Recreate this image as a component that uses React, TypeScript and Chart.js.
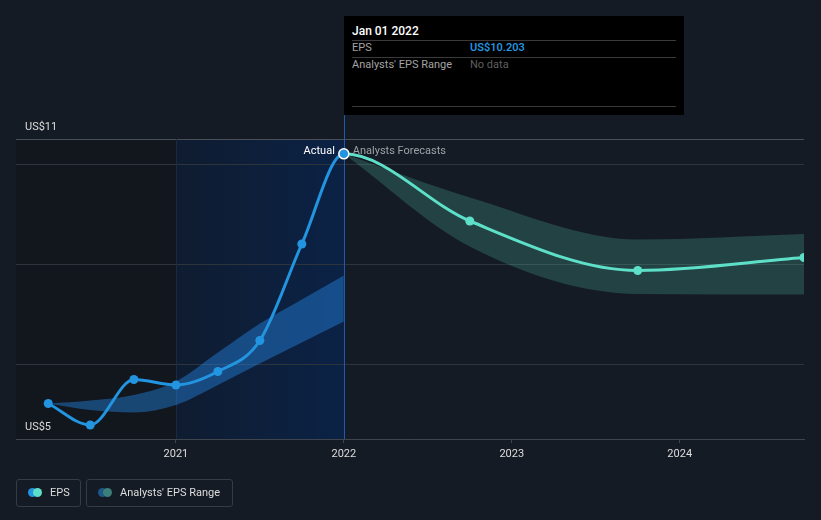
import React, { useEffect, useRef } from "react";
import { Chart, registerables } from "chart.js";

Chart.register(...registerables);

// ---- data ----
const actualDates = [2020.24, 2020.49, 2020.75, 2021.0, 2021.25, 2021.5, 2021.75, 2022.0];
const actualEps = [5.21, 4.78, 5.69, 5.58, 5.85, 6.47, 8.4, 10.203];
const pastRangeHigh = [5.21, 5.27, 5.38, 5.65, 6.23, 6.81, 7.29, 7.77];
const pastRangeLow = [5.21, 5.08, 5.03, 5.18, 5.58, 6.01, 6.43, 6.85];
const forecastDates = [2022.0, 2022.75, 2023.75, 2024.74];
const forecastEps = [10.203, 8.86, 7.87, 8.13];
const forecastHigh = [10.203, 9.33, 8.49, 8.6];
const forecastLow = [10.203, 8.35, 7.4, 7.39];
const xTicks = [2021, 2022, 2023, 2024];
const yTicks = [4.5, 6, 8, 10, 10.5];
const yTickLabels = ["US$5", "", "", "", "US$11"];
const xMin = 2020.048;
const xMax = 2024.74;
const pastStart = 2021;
const nowDate = 2022;

const BLUE = "#2394df";
const TEAL = "#5ee0c8";
const CLEAR = "rgba(0,0,0,0)";
const FONT = "Roboto, 'Noto Sans', sans-serif";
const FS = 11;

const pts = (xs: number[], ys: number[]) => xs.map((x, i) => ({ x, y: ys[i] }));

const bgPlugin = {
  id: "bgPlugin",
  beforeDraw(chart: any) {
    const { ctx, chartArea, scales } = chart;
    const xs = scales.x;
    ctx.save();
    ctx.fillStyle = "#151b24";
    ctx.fillRect(0, 0, chart.width, chart.height);
    const x1 = xs.getPixelForValue(pastStart);
    const x2 = xs.getPixelForValue(nowDate);
    ctx.fillStyle = "#12161d";
    ctx.fillRect(chartArea.left, chartArea.top, x1 - chartArea.left, chartArea.bottom - chartArea.top);
    const g = ctx.createLinearGradient(x1, 0, x2, 0);
    g.addColorStop(0, "#0f1c30");
    g.addColorStop(1, "#0b2246");
    ctx.fillStyle = g;
    ctx.fillRect(x1, chartArea.top, x2 - x1, chartArea.bottom - chartArea.top);
    ctx.restore();
  },
  beforeDatasetsDraw(chart: any) {
    const { ctx, chartArea, scales } = chart;
    const xs = scales.x;
    const x1 = Math.round(xs.getPixelForValue(pastStart)) + 0.5;
    const x2 = Math.round(xs.getPixelForValue(nowDate)) + 0.5;
    ctx.save();
    ctx.lineWidth = 1;
    ctx.strokeStyle = "#1a2a44";
    ctx.beginPath();
    ctx.moveTo(x1, chartArea.top);
    ctx.lineTo(x1, chartArea.bottom);
    ctx.stroke();
    ctx.strokeStyle = "#1f5ab0";
    ctx.beginPath();
    ctx.moveTo(x2, 115);
    ctx.lineTo(x2, chartArea.bottom);
    ctx.stroke();
    ctx.restore();
  },
  afterDatasetsDraw(chart: any) {
    const { ctx, chartArea, scales } = chart;
    const x2 = scales.x.getPixelForValue(nowDate);
    ctx.save();
    ctx.font = FS + "px " + FONT;
    ctx.textBaseline = "middle";
    ctx.fillStyle = "#ffffff";
    ctx.textAlign = "right";
    ctx.fillText("Actual", x2 - 9, chartArea.top + 12);
    ctx.fillStyle = "#9ea2a8";
    ctx.textAlign = "left";
    ctx.fillText("Analysts Forecasts", x2 + 9, chartArea.top + 12);
    ctx.restore();
  },
};

export default function App() {
  const ref = useRef<HTMLCanvasElement | null>(null);

  useEffect(() => {
    document.body.style.margin = "0";
    document.body.style.background = "#151b24";
    const canvas = ref.current;
    if (!canvas) return;
    Chart.defaults.font.family = FONT;
    const lastIdx = actualEps.length - 1;

    // the actual line continues (invisibly) into the first forecast point so the
    // spline is continuous across "now"; likewise the forecast line starts invisibly
    const actualPts = [...pts(actualDates, actualEps), { x: forecastDates[1], y: forecastEps[1] }];
    const fcPts = [{ x: actualDates[lastIdx - 1], y: actualEps[lastIdx - 1] }, ...pts(forecastDates, forecastEps)];

    const chart = new Chart(canvas, {
      type: "line",
      data: {
        datasets: [
          {
            label: "EPS",
            data: actualPts,
            borderColor: BLUE,
            backgroundColor: BLUE,
            borderWidth: 3,
            cubicInterpolationMode: "monotone",
            segment: {
              borderColor: (c: any) => (c.p0DataIndex >= lastIdx ? CLEAR : BLUE),
            },
            pointRadius: actualPts.map((_, i) => (i === lastIdx ? 5 : i > lastIdx ? 0 : 4.5)),
            pointBackgroundColor: BLUE,
            pointBorderColor: actualPts.map((_, i) => (i === lastIdx ? "#ffffff" : BLUE)),
            pointBorderWidth: actualPts.map((_, i) => (i === lastIdx ? 1.5 : 0)),
            fill: false,
          },
          {
            label: "Forecast",
            data: fcPts,
            borderColor: TEAL,
            backgroundColor: TEAL,
            borderWidth: 3,
            cubicInterpolationMode: "monotone",
            segment: {
              borderColor: (c: any) => (c.p0DataIndex === 0 ? CLEAR : TEAL),
            },
            pointRadius: fcPts.map((_, i) => (i <= 1 ? 0 : 4.5)),
            pointBorderWidth: 0,
            fill: false,
          },
          {
            label: "pastHigh",
            data: pts(actualDates, pastRangeHigh),
            borderWidth: 0,
            borderColor: CLEAR,
            backgroundColor: "rgba(36,130,225,0.45)",
            pointRadius: 0,
            cubicInterpolationMode: "monotone",
            fill: "+1",
          },
          {
            label: "pastLow",
            data: pts(actualDates, pastRangeLow),
            borderWidth: 0,
            borderColor: CLEAR,
            pointRadius: 0,
            cubicInterpolationMode: "monotone",
            fill: false,
          },
          {
            label: "fcHigh",
            data: pts(forecastDates, forecastHigh),
            borderWidth: 0,
            borderColor: CLEAR,
            backgroundColor: "rgba(91,224,201,0.2)",
            pointRadius: 0,
            cubicInterpolationMode: "monotone",
            fill: "+1",
          },
          {
            label: "fcLow",
            data: pts(forecastDates, forecastLow),
            borderWidth: 0,
            borderColor: CLEAR,
            pointRadius: 0,
            cubicInterpolationMode: "monotone",
            fill: false,
          },
        ],
      },
      options: {
        responsive: false,
        animation: false,
        layout: { padding: { left: 16, right: 17, top: 139, bottom: 51 } },
        plugins: { legend: { display: false }, tooltip: { enabled: false } },
        scales: {
          x: {
            type: "linear",
            min: xMin,
            max: xMax,
            afterBuildTicks: (s: any) => {
              s.ticks = xTicks.map((v) => ({ value: v }));
            },
            afterFit: (s: any) => {
              s.height = 30;
            },
            ticks: {
              color: "#dddddd",
              font: { size: FS, family: FONT },
              padding: 5,
              maxRotation: 0,
              autoSkip: false,
              callback: (v: any) => String(v),
            },
            grid: {
              drawOnChartArea: false,
              drawTicks: true,
              tickLength: 4,
              color: "#40454d",
            },
            border: { display: true, color: "#40454d", width: 1 },
          },
          y: {
            type: "linear",
            min: 4.5,
            max: 10.5,
            afterBuildTicks: (s: any) => {
              s.ticks = yTicks.map((v) => ({ value: v }));
            },
            afterFit: (s: any) => {
              s.width = 0;
            },
            ticks: {
              mirror: true,
              padding: 9,
              labelOffset: -12,
              color: "#dddddd",
              font: { size: FS, family: FONT },
              autoSkip: false,
              callback: (v: any) => {
                const i = yTicks.indexOf(Number(v));
                return i >= 0 ? yTickLabels[i] : "";
              },
            },
            grid: {
              drawTicks: false,
              color: (c: any) => {
                const v = c.tick ? c.tick.value : 0;
                if (v === 4.5) return CLEAR;
                if (v === 10.5) return "#4a4f57";
                return "#2e343c";
              },
            },
            border: { display: false },
          },
        },
      },
      plugins: [bgPlugin],
    } as any);
    return () => chart.destroy();
  }, []);

  const txt = (extra: any) => ({
    position: "absolute" as const,
    fontFamily: FONT,
    fontSize: FS,
    lineHeight: "14px",
    whiteSpace: "nowrap" as const,
    ...extra,
  });
  const rule = (top: number) => (
    <div style={{ position: "absolute", left: 8, top, width: 324, height: 1, background: "#3a3a3a" }} />
  );
  const dot = (left: number, color: string) => (
    <div
      style={{
        position: "absolute",
        left,
        top: 488,
        width: 9,
        height: 9,
        borderRadius: "50%",
        background: color,
      }}
    />
  );
  const box = (left: number, width: number) => (
    <div
      style={{
        position: "absolute",
        left,
        top: 479,
        width,
        height: 28,
        boxSizing: "border-box",
        border: "1px solid #363b44",
        borderRadius: 3,
      }}
    />
  );

  return (
    <div style={{ position: "relative", width: 821, height: 520, background: "#151b24", overflow: "hidden" }}>
      <canvas ref={ref} width={821} height={520} style={{ position: "absolute", left: 0, top: 0 }} />
      <div style={{ position: "absolute", left: 344, top: 16, width: 340, height: 99, background: "#000000" }}>
        <div style={txt({ left: 8, top: 8, color: "#ffffff", fontWeight: 500, fontSize: 12 })}>Jan 01 2022</div>
        {rule(24)}
        <div style={txt({ left: 8, top: 25, color: "#a3a3a3" })}>EPS</div>
        <div style={txt({ left: 126, top: 25, color: BLUE, fontWeight: 600 })}>US$10.203</div>
        {rule(41)}
        <div style={txt({ left: 8, top: 42, color: "#a3a3a3" })}>Analysts' EPS Range</div>
        <div style={txt({ left: 126, top: 42, color: "#5f5f5f" })}>No data</div>
        {rule(90)}
      </div>
      {box(16, 65)}
      {dot(28, BLUE)}
      {dot(33, TEAL)}
      <div style={txt({ left: 50, top: 486, color: "#dddddd" })}>EPS</div>
      {box(86, 147)}
      {dot(98, "#1d5687")}
      {dot(103, "#3b7f78")}
      <div style={txt({ left: 120, top: 486, color: "#dddddd" })}>Analysts' EPS Range</div>
    </div>
  );
}
